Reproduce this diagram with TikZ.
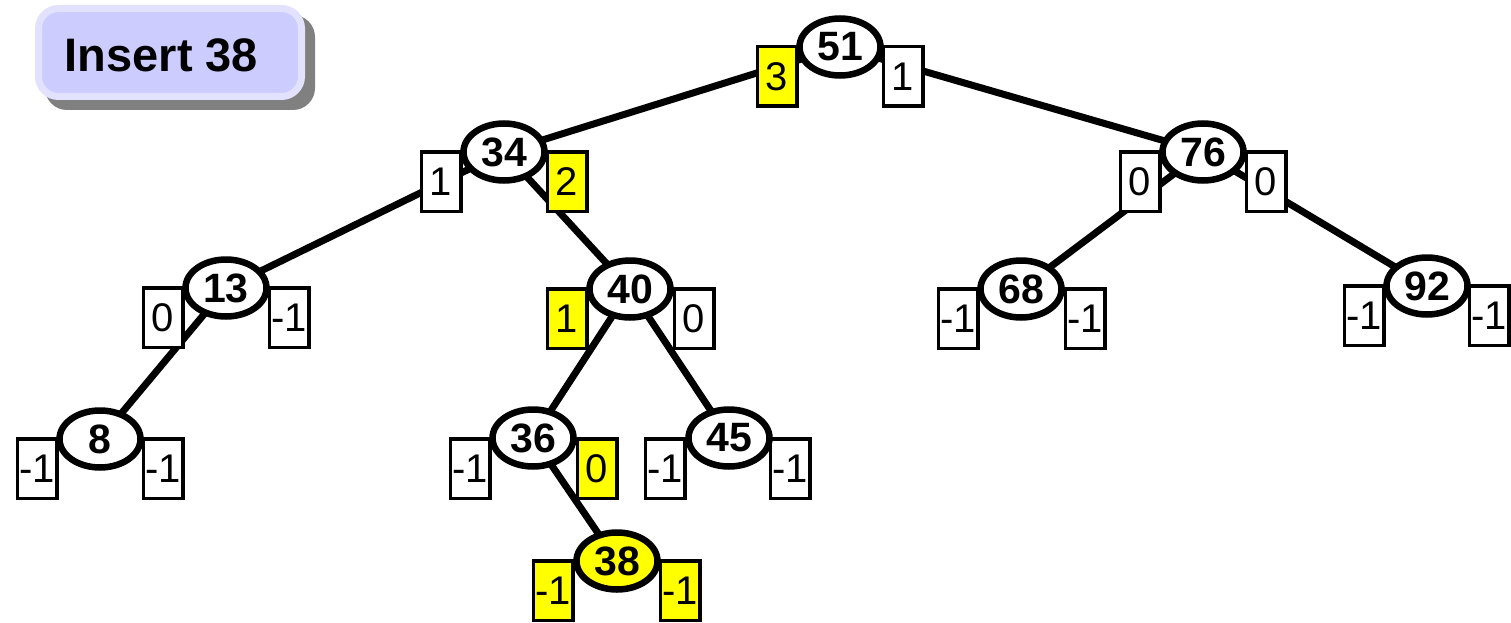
\documentclass[tikz,border=0pt]{standalone}
\usepackage{fontspec}
\setmainfont{Liberation Sans}
\usetikzlibrary{shapes.geometric,calc}
\pgfdeclarelayer{bg}
\pgfsetlayers{bg,main}
\definecolor{ylw}{RGB}{255,255,0}
\definecolor{lav}{RGB}{204,204,255}
\definecolor{lavb}{RGB}{226,226,255}
\definecolor{shd}{RGB}{128,128,128}
\begin{document}
\begin{tikzpicture}[x=1pt,y=-1pt,
 tn/.style={ellipse,draw,line width=6.5pt,fill=white,minimum width=81pt,minimum height=57pt,inner sep=0pt,font=\fontsize{41}{41}\selectfont\bfseries},
 tny/.style={tn,fill=ylw},
 hb/.style={rectangle,draw,line width=3.5pt,fill=white,minimum width=39.5pt,minimum height=59.5pt,inner sep=0pt,font=\fontsize{40}{40}\selectfont},
 hy/.style={hb,fill=ylw},
 ln/.style={line width=7pt},
 titlebox/.style={rectangle,draw=lavb,fill=lav,line width=7pt,rounded corners=20pt,minimum width=263pt,minimum height=88pt,inner sep=0pt},
 titletext/.style={inner sep=0pt,font=\fontsize{47}{47}\selectfont\bfseries}]
\useasboundingbox (0,0) rectangle (1511,623);
% title
\fill[shd,rounded corners=22pt] (45,15) rectangle (315,110);
\node[titlebox] (tb) at (170,52.5) {};
\node[titletext] (tt) at (161.5,55) {Insert 38};
% coordinates of tree nodes
\coordinate (p51) at (840,47);
\coordinate (p34) at (504,152);
\coordinate (p76) at (1203,152);
\coordinate (p13) at (226,288);
\coordinate (p40) at (630,289);
\coordinate (p68) at (1021,289);
\coordinate (p92) at (1427,286);
\coordinate (p8) at (100,439);
\coordinate (p36) at (533,438);
\coordinate (p45) at (729,438);
\coordinate (p38) at (617,561);
% height boxes
\node[hy] (b51l) at ($(p51)+(-63,29.5)$) {3};
\node[hb] (b51r) at ($(p51)+(63,29.5)$) {1};
\node[hb] (b34l) at ($(p34)+(-63,29.5)$) {1};
\node[hy] (b34r) at ($(p34)+(63,29.5)$) {2};
\node[hb] (b76l) at ($(p76)+(-63,29.5)$) {0};
\node[hb] (b76r) at ($(p76)+(63,29.5)$) {0};
\node[hb] (b13l) at ($(p13)+(-63,29.5)$) {0};
\node[hb] (b13r) at ($(p13)+(63,29.5)$) {-1};
\node[hy] (b40l) at ($(p40)+(-63,29.5)$) {1};
\node[hb] (b40r) at ($(p40)+(64,29.5)$) {0};
\node[hb] (b68l) at ($(p68)+(-63,29.5)$) {-1};
\node[hb] (b68r) at ($(p68)+(64,29.5)$) {-1};
\node[hb] (b92l) at ($(p92)+(-63,29.5)$) {-1};
\node[hb] (b92r) at ($(p92)+(62,29.5)$) {-1};
\node[hb] (b8l) at ($(p8)+(-63,29.5)$) {-1};
\node[hb] (b8r) at ($(p8)+(63,29.5)$) {-1};
\node[hb] (b36l) at ($(p36)+(-63,30.5)$) {-1};
\node[hy] (b36r) at ($(p36)+(64,30.5)$) {0};
\node[hb] (b45l) at ($(p45)+(-64,30.5)$) {-1};
\node[hb] (b45r) at ($(p45)+(61,30.5)$) {-1};
\node[hy] (b38l) at ($(p38)+(-64,29.5)$) {-1};
\node[hy] (b38r) at ($(p38)+(63,29.5)$) {-1};
% tree nodes
\node[tn] (n51) at (p51) {51};
\node[tn] (n34) at (p34) {34};
\node[tn] (n76) at (p76) {76};
\node[tn] (n13) at (p13) {13};
\node[tn] (n40) at (p40) {40};
\node[tn] (n68) at (p68) {68};
\node[tn] (n92) at (p92) {92};
\node[tn] (n8) at (p8) {8};
\node[tn] (n36) at (p36) {36};
\node[tn] (n45) at (p45) {45};
\node[tny] (n38) at (p38) {38};
% edges
\begin{pgfonlayer}{bg}
\draw[ln] (n51.center) -- (n34.center);
\draw[ln] (n51.center) -- (n76.center);
\draw[ln] (n34.center) -- (n13.center);
\draw[ln] (n34.center) -- (n40.center);
\draw[ln] (n76.center) -- (n68.center);
\draw[ln] (n76.center) -- (n92.center);
\draw[ln] (n13.center) -- (n8.center);
\draw[ln] (n40.center) -- (n36.center);
\draw[ln] (n40.center) -- (n45.center);
\draw[ln] (n36.center) -- (n38.center);
\end{pgfonlayer}
\end{tikzpicture}
\end{document}
